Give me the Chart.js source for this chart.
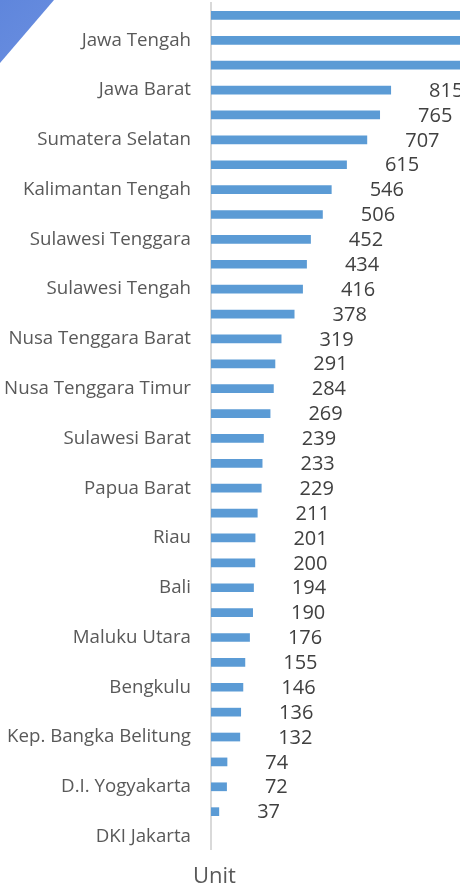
<!DOCTYPE html>
<html>
<head>
<meta charset="utf-8">
<script src="https://cdn.jsdelivr.net/npm/chart.js@4.4.1/dist/chart.umd.min.js"></script>
<style>
  html, body { margin: 0; padding: 0; background: #fff; }
  .wrap { position: relative; width: 460px; height: 885px; overflow: hidden; }
  .corner {
    position: absolute; left: 0; top: 0; width: 60px; height: 66px;
    background: linear-gradient(135deg, #5f86dc, #6b8fe0);
    clip-path: polygon(0 0, 54px 0, 0 63px);
  }
  .unit {
    position: absolute; left: 193px; top: 863px;
    font: 22px "Open Sans", sans-serif; line-height: 22px; color: #595959;
  }
  canvas { position: absolute; left: 0; top: 0; }
</style>
</head>
<body>
<div class="wrap">
  <div class="corner"></div>
  <canvas id="chart" width="460" height="885"></canvas>
  <div class="unit">Unit</div>
</div>
<script>
// provinces, top to bottom (only every second name is shown on the axis)
const provinces = [
  "Jawa Timur", "Jawa Tengah", "Sumatera Utara", "Jawa Barat",
  "Sulawesi Selatan", "Sumatera Selatan", "Aceh", "Kalimantan Tengah",
  "Lampung", "Sulawesi Tenggara", "Kalimantan Barat", "Sulawesi Tengah",
  "Kalimantan Timur", "Nusa Tenggara Barat", "Sumatera Barat", "Nusa Tenggara Timur",
  "Kalimantan Selatan", "Sulawesi Barat", "Jambi", "Papua Barat",
  "Papua", "Riau", "Banten", "Bali",
  "Sulawesi Utara", "Maluku Utara", "Maluku", "Bengkulu",
  "Gorontalo", "Kep. Bangka Belitung", "Kalimantan Utara", "D.I. Yogyakarta",
  "Kep. Riau", "DKI Jakarta"
];

// units per province (first three bars run past the edge)
const units = [
  1420, 1310, 1190, 815,
  765, 707, 615, 546,
  506, 452, 434, 416,
  378, 319, 291, 284,
  269, 239, 233, 229,
  211, 201, 200, 194,
  190, 176, 155, 146,
  136, 132, 74, 72,
  37, 0
];

const barColor = "#5b9bd5";

// value labels sit a fixed gap to the right of each bar end
const valueLabels = {
  id: "valueLabels",
  afterDatasetsDraw: (chart) => {
    const ctx = chart.ctx;
    const meta = chart.getDatasetMeta(0);
    ctx.save();
    ctx.font = '20px "Open Sans", sans-serif';
    ctx.fillStyle = "#404040";
    ctx.textAlign = "left";
    ctx.textBaseline = "middle";
    meta.data.forEach((bar, i) => {
      if (!units[i]) return;
      ctx.fillText(units[i], bar.x + 38, bar.y + 1);
    });
    ctx.restore();
  }
};

const ctx = document.getElementById("chart").getContext("2d");
const myChart = new Chart(ctx, {
  type: "bar",
  data: {
    labels: provinces,
    datasets: [
      {
        data: units,
        backgroundColor: barColor,
        borderWidth: 0,
        categoryPercentage: 0.35,
        barPercentage: 1,
      },
    ],
  },
  options: {
    indexAxis: "y",
    responsive: false,
    animation: false,
    layout: { padding: { top: 3, bottom: 36, left: 0, right: 0 } },
    plugins: {
      legend: { display: false },
      tooltip: { enabled: false },
    },
    scales: {
      x: {
        display: false,
        min: 0,
        max: 1127,
      },
      y: {
        grid: { display: false },
        border: { display: true, color: "#d9d9d9", width: 2 },
        afterFit: (scale) => {
          scale.width = 211;
          scale.paddingTop = 0;
          scale.paddingBottom = 0;
        },
        ticks: {
          autoSkip: false,
          padding: 12,
          color: "#595959",
          font: { family: "Open Sans", size: 18.7 },
          callback: (v, i) => (i % 2 === 1 ? provinces[i] : ""),
        },
      },
    },
  },
  plugins: [valueLabels],
});
</script>
</body>
</html>
